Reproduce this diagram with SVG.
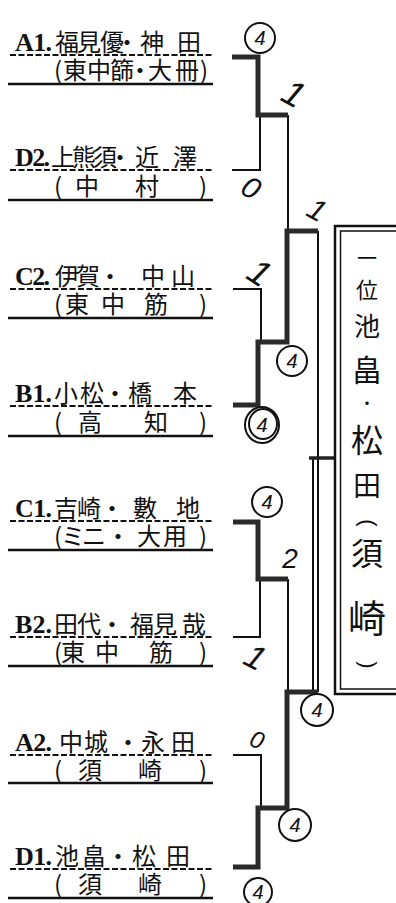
<svg xmlns="http://www.w3.org/2000/svg" width="396" height="903" viewBox="0 0 396 903">
<style>
.lbl{font-family:"Liberation Serif",serif;font-weight:bold;font-size:26px;fill:#111}
.nm{font-family:"Noto Sans CJK JP",sans-serif;font-size:24px;text-anchor:middle;fill:#111}
.dash{stroke:#111;stroke-width:1.8;stroke-dasharray:6 2.5}
.rule{stroke:#111;stroke-width:2.5}
.thin{fill:none;stroke:#111;stroke-width:2}
.thick{fill:none;stroke:#2a2a2a;stroke-width:5}
.ring{fill:none;stroke:#111;stroke-width:2}
.sc{font-family:"Liberation Sans",sans-serif;font-style:italic;fill:#111;text-anchor:middle}
.bx{font-family:"Noto Sans CJK JP",sans-serif;text-anchor:middle;fill:#111}
.par{font-family:"Liberation Sans",sans-serif;font-size:22px;text-anchor:middle;fill:#111}
</style>
<rect width="396" height="903" fill="#fff"/>

<g id="A1">
<line class="dash" x1="10" y1="55" x2="213" y2="55"/><line class="rule" x1="8" y1="84" x2="213" y2="84"/>
<text class="lbl" x="15" y="51" textLength="37">A1.</text>
<text class="nm" x="67 89 112 127 152 189 58 75 99 122 140 160 187 204" y="51 51 51 51 51 51 79 79 79 79 79 79 79 79">福見優・神田(東中篩・大冊)</text>
</g>
<g id="D2">
<line class="dash" x1="10" y1="170" x2="213" y2="170"/><line class="rule" x1="8" y1="200" x2="213" y2="200"/>
<text class="lbl" x="15" y="166" textLength="35">D2.</text>
<text class="nm" x="63 84 105 120 147 185 58 87 147 203" y="166 166 166 166 166 166 195 195 195 195">上熊須・近澤(中村)</text>
</g>
<g id="C2">
<line class="dash" x1="10" y1="289" x2="213" y2="289"/><line class="rule" x1="8" y1="318" x2="213" y2="318"/>
<text class="lbl" x="15" y="285" textLength="35">C2.</text>
<text class="nm" x="67 88 110 153 183 58 77 113 156 203" y="285 285 285 285 285 313 313 313 313 313">伊賀・中山(東中筋)</text>
</g>
<g id="B1">
<line class="dash" x1="10" y1="406" x2="213" y2="406"/><line class="rule" x1="8" y1="436" x2="213" y2="436"/>
<text class="lbl" x="15" y="402" textLength="37">B1.</text>
<text class="nm" x="66 92 115 140 185 58 90 156 203" y="402 402 402 402 402 431 431 431 431">小松・橋本(高知)</text>
</g>
<g id="C1">
<line class="dash" x1="10" y1="521" x2="213" y2="521"/><line class="rule" x1="8" y1="550" x2="213" y2="550"/>
<text class="lbl" x="15" y="517" textLength="37">C1.</text>
<text class="nm" x="66 89 112 145 188 58 73 94 118 149 175 203" y="517 517 517 517 517 545 545 545 545 545 545 545">吉崎・數地(ミニ・大用)</text>
</g>
<g id="B2">
<line class="dash" x1="10" y1="637" x2="213" y2="637"/><line class="rule" x1="8" y1="666" x2="213" y2="666"/>
<text class="lbl" x="15" y="633" textLength="37">B2.</text>
<text class="nm" x="66 89 112 142 165 194 58 73 107 161 203" y="633 633 633 633 633 633 661 661 661 661 661">田代・福見哉(東中筋)</text>
</g>
<g id="A2">
<line class="dash" x1="10" y1="755" x2="213" y2="755"/><line class="rule" x1="8" y1="783" x2="213" y2="783"/>
<text class="lbl" x="15" y="751" textLength="37">A2.</text>
<text class="nm" x="71 96 128 153 183 58 90 150 203" y="751 751 751 751 751 779 779 779 779">中城・永田(須崎)</text>
</g>
<g id="D1">
<line class="dash" x1="10" y1="869" x2="213" y2="869"/><line class="rule" x1="8" y1="898" x2="213" y2="898"/>
<text class="lbl" x="15" y="865" textLength="37">D1.</text>
<text class="nm" x="67 94 118 144 178 58 90 150 203" y="865 865 865 865 865 893 893 893 893">池畠・松田(須崎)</text>
</g>

<g id="connectors">
<path class="thin" d="M232 170H260V115"/>
<path class="thin" d="M288 115V231"/>
<path class="thin" d="M233 289H261V342"/>
<path class="thin" d="M318 231V692"/>
<path class="thin" d="M313 458V692"/>
<path class="thin" d="M233 637H260V579"/>
<path class="thin" d="M288 579V692"/>
<path class="thin" d="M233 755H261V808"/>
<path class="thick" d="M232 57H258V115H288"/>
<path class="thick" d="M233 405H258V342H287V231H318"/>
<path class="thick" d="M233 522H258V579H288"/>
<path class="thick" d="M233 867H258V808H287V692H318"/>
<path fill="none" stroke="#222" stroke-width="3.5" d="M309 458H335"/>
</g>

<g id="scores">
<circle class="ring" cx="260" cy="38" r="15"/><text class="sc" x="260" y="45" font-size="20">4</text>
<text class="sc" x="251" y="198" font-size="30" transform="rotate(30 251 188)">0</text>
<text class="sc" x="294" y="106" font-size="36" transform="rotate(29 294 93)">1</text>
<text class="sc" x="260" y="285" font-size="36" transform="rotate(33 260 272)">1</text>
<ellipse class="ring" cx="262" cy="425" rx="17" ry="18"/><ellipse class="ring" cx="263" cy="424" rx="14" ry="15" stroke-width="1.5"/><text class="sc" x="262" y="432" font-size="20">4</text>
<circle class="ring" cx="292" cy="361" r="15"/><text class="sc" x="292" y="368" font-size="20">4</text>
<text class="sc" x="317" y="220" font-size="30" transform="rotate(29 317 210)">1</text>
<circle class="ring" cx="267" cy="502" r="15"/><text class="sc" x="267" y="509" font-size="20">4</text>
<text class="sc" x="290" y="568" font-size="28">2</text>
<text class="sc" x="256" y="669" font-size="34" transform="rotate(28 256 656)">1</text>
<circle class="ring" cx="317" cy="710" r="16"/><text class="sc" x="317" y="717" font-size="20">4</text>
<text class="sc" x="257" y="748" font-size="24" transform="rotate(20 257 740)">0</text>
<circle class="ring" cx="295" cy="825" r="16"/><text class="sc" x="295" y="832" font-size="20">4</text>
<circle class="ring" cx="258" cy="892" r="14"/><text class="sc" x="258" y="899" font-size="20">4</text>
</g>

<g id="champion">
<rect x="335" y="226" width="80" height="468" fill="none" stroke="#111" stroke-width="2.5"/>
<rect x="340.5" y="231" width="80" height="458" fill="none" stroke="#111" stroke-width="1.5"/>
<text class="bx"><tspan x="367" y="266" font-size="20">一</tspan><tspan x="367" y="298" font-size="22">位</tspan><tspan x="367" y="336" font-size="26">池</tspan><tspan x="367" y="381" font-size="30">畠</tspan><tspan x="367" y="409" font-size="16">・</tspan><tspan x="367" y="452" font-size="32">松</tspan><tspan x="367" y="496" font-size="28">田</tspan></text>
<text class="par" x="367" y="529" transform="rotate(90 367 523)">(</text>
<text class="bx"><tspan x="367" y="565" font-size="32">須</tspan><tspan x="367" y="632" font-size="38">崎</tspan></text>
<text class="par" x="367" y="671" transform="rotate(90 367 665)">)</text>
</g>
</svg>
